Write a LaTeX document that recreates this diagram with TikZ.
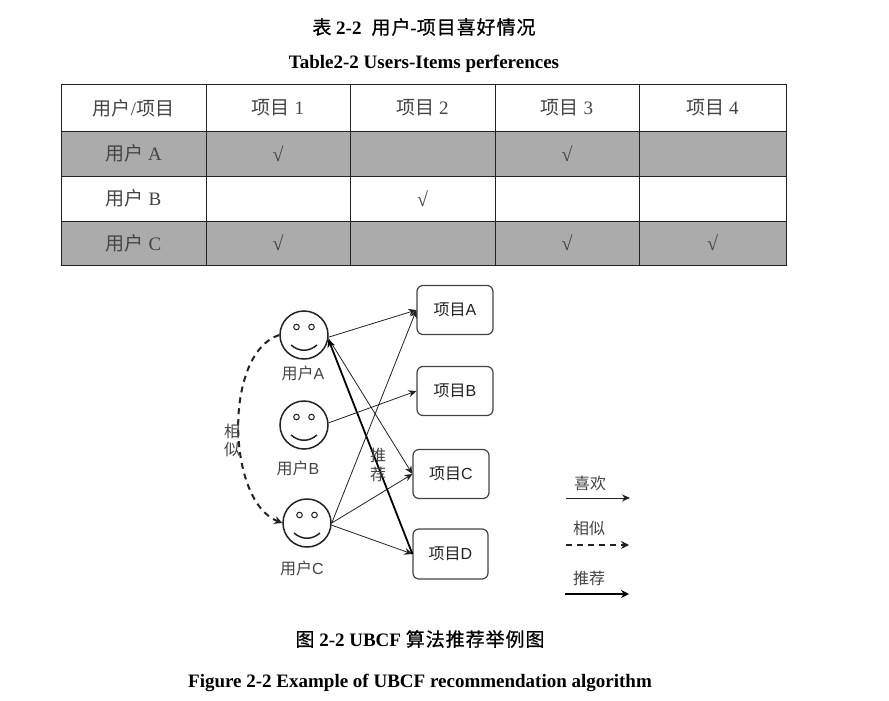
\documentclass[tikz,border=0pt]{standalone}
\usepackage{fontspec}
\setmainfont{Liberation Serif}
\setsansfont{Liberation Sans}
\newfontfamily\cjk{Noto Sans CJK SC}
\newfontfamily\cjkt[FakeBold=0.7,LetterSpace=5]{Noto Sans CJK SC}
\newcommand{\zh}[1]{{\cjk #1}}
\newcommand{\zt}[1]{{\cjkt\mdseries #1}}
\usetikzlibrary{arrows.meta}
\definecolor{ink}{HTML}{222222}
\definecolor{soft}{HTML}{444444}
\definecolor{band}{HTML}{ABABAB}
\tikzset{
  x=1pt,y=-1pt,
  cell/.style={draw=ink,line width=1pt,inner sep=0,minimum height=#1,text=soft,font=\fontsize{19}{19}\selectfont},
  cell/.default=45pt,
  shade/.style={fill=band},
  titletext/.style={text=black,font=\bfseries\fontsize{19}{19}\selectfont,inner sep=0},
  facecircle/.style={circle,draw=ink,line width=1.5pt,minimum size=48pt,inner sep=0},
  itembox/.style={draw=soft,line width=1.2pt,rounded corners=6pt,minimum width=76pt,minimum height=49pt,inner sep=0,text=ink,font=\sffamily\fontsize{16}{16}\selectfont},
  lab/.style={text=soft,inner sep=0,font=\sffamily\fontsize{16}{16}\selectfont},
  likes/.style={draw=ink,line width=0.8pt,-{Stealth[length=8pt,width=7pt]}},
  similar/.style={draw=ink,line width=2pt,dash pattern=on 6pt off 5pt,-{Stealth[length=8pt,width=8pt]}},
  recommend/.style={draw=black,line width=1.8pt,-{Stealth[length=8pt,width=8pt]}},
  tick/.style={font=\bfseries\fontsize{20}{20}\selectfont},
}
\newcommand{\face}[3]{%
  \node[facecircle] (#1) at (#2,#3) {};
  \draw[ink,line width=1pt] ([shift={(-7.5,-8)}]#1.center) circle[radius=2.8pt];
  \draw[ink,line width=1pt] ([shift={(7.5,-8)}]#1.center) circle[radius=2.8pt];
  \draw[ink,line width=1.5pt] ([shift={(-13,10)}]#1.center) .. controls ([shift={(-5,17)}]#1.center) and ([shift={(5,17)}]#1.center) .. ([shift={(13,10)}]#1.center);
}
\begin{document}
\begin{tikzpicture}
\useasboundingbox[fill=white] (0,0) rectangle (889,701);
% titles
\node[titletext] (t1) at (424,27) {\zt{表} 2-2\hspace{10pt}\zt{用户}-\zt{项目喜好情况}};
\node[titletext] (t2) at (424,64) {Table2-2 Users-Items perferences};
\node[titletext] (t3) at (420,639) {\zt{图} 2-2 UBCF \zt{算法推荐举例图}};
\node[titletext] (t4) at (420,683) {Figure 2-2 Example of UBCF recommendation algorithm};
% table
\node[cell=46pt,minimum width=145pt] (h0) at (133.5,108) {\zh{用户}/\zh{项目}};
\node[cell=46pt,minimum width=144pt] (h1) at (278,108) {\zh{项目} 1};
\node[cell=46pt,minimum width=145pt] (h2) at (422.5,108) {\zh{项目} 2};
\node[cell=46pt,minimum width=144pt] (h3) at (567,108) {\zh{项目} 3};
\node[cell=46pt,minimum width=147pt] (h4) at (712.5,108) {\zh{项目} 4};
\node[cell,shade,minimum width=145pt] (a0) at (133.5,153.5) {\zh{用户} A};
\node[cell,shade,tick,minimum width=144pt] (a1) at (278,153.5) {√};
\node[cell,shade,minimum width=145pt] (a2) at (422.5,153.5) {};
\node[cell,shade,tick,minimum width=144pt] (a3) at (567,153.5) {√};
\node[cell,shade,minimum width=147pt] (a4) at (712.5,153.5) {};
\node[cell,minimum width=145pt] (b0) at (133.5,198.5) {\zh{用户} B};
\node[cell,minimum width=144pt] (b1) at (278,198.5) {};
\node[cell,tick,minimum width=145pt] (b2) at (422.5,198.5) {√};
\node[cell,minimum width=144pt] (b3) at (567,198.5) {};
\node[cell,minimum width=147pt] (b4) at (712.5,198.5) {};
\node[cell=44pt,shade,minimum width=145pt] (c0) at (133.5,243) {\zh{用户} C};
\node[cell=44pt,shade,tick,minimum width=144pt] (c1) at (278,243) {√};
\node[cell=44pt,shade,minimum width=145pt] (c2) at (422.5,243) {};
\node[cell=44pt,shade,tick,minimum width=144pt] (c3) at (567,243) {√};
\node[cell=44pt,shade,tick,minimum width=147pt] (c4) at (712.5,243) {√};
% faces
\face{ua}{304}{335}
\face{ub}{304}{425}
\face{uc}{307}{523}
\node[lab] (la) at (303,373) {\zh{用户}A};
\node[lab] (lb) at (298,468) {\zh{用户}B};
\node[lab] (lc) at (302,568) {\zh{用户}C};
% items
\node[itembox] (ia) at (455,310) {\zh{项目}A};
\node[itembox] (ib) at (455,391) {\zh{项目}B};
\node[itembox] (ic) at (451,474) {\zh{项目}C};
\node[itembox,minimum width=75pt,minimum height=50pt] (id) at (450.5,554) {\zh{项目}D};
% connectors
\draw[likes] (ua.-5) -- (ia.west);
\draw[likes] (ua.-8) -- (ic.west);
\draw[likes] (ub.5) -- (ib.west);
\draw[likes] (uc.east) -- (ia.west);
\draw[likes] (uc.east) -- (ic.west);
\draw[likes] (uc.-5) -- (id.west);
\draw[recommend] (id.west) -- (ua.-10);
\draw[similar] (ua.west) .. controls +(-56,18) and +(-56,-22) .. (uc.west);
\node[lab] (s1) at (232,431) {\zh{相}};
\node[lab] (s2) at (232,449) {\zh{似}};
\node[lab] (r1) at (378,455) {\zh{推}};
\node[lab] (r2) at (378,474) {\zh{荐}};
% legend
\node[lab] (k1) at (590,483) {\zh{喜欢}};
\node[lab] (k2) at (589,528) {\zh{相似}};
\node[lab] (k3) at (589,578) {\zh{推荐}};
\coordinate (k1a) at (566,498); \coordinate (k1b) at (630,498);
\coordinate (k2a) at (566,545); \coordinate (k2b) at (629,545);
\coordinate (k3a) at (565,594); \coordinate (k3b) at (629,594);
\draw[likes] (k1a) -- (k1b);
\draw[similar] (k2a) -- (k2b);
\draw[recommend] (k3a) -- (k3b);
\end{tikzpicture}
\end{document}
